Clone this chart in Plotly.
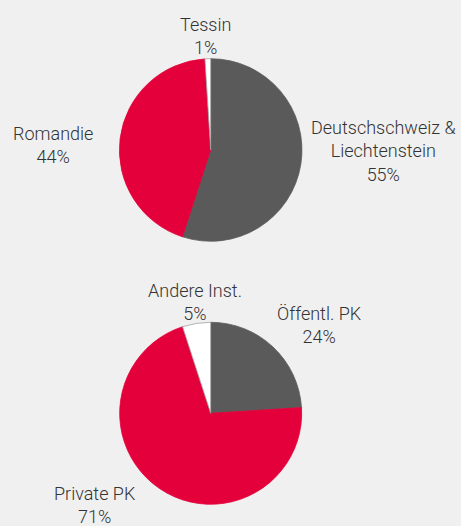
import plotly.graph_objects as go

# Pie 1: Sprachregion
region_labels = ["Deutschschweiz & Liechtenstein", "Romandie", "Tessin"]
region_values = [55, 44, 1]

# Pie 2: Institutionstyp
inst_labels = ["Öffentl. PK", "Private PK", "Andere Inst."]
inst_values = [24, 71, 5]

slice_colors = ["#5a5a5a", "#e4003a", "#ffffff"]
line_colors = ["#5a5a5a", "#e4003a", "#a0a0a0"]
bg = "#f0f0f0"
font_family = "Roboto"

fig = go.Figure()
fig.add_trace(go.Pie(
    labels=region_labels, values=region_values, sort=False, direction="clockwise",
    rotation=0, textinfo="none", hoverinfo="label+percent",
    marker=dict(colors=slice_colors, line=dict(color=line_colors, width=0.8)),
    domain=dict(x=[0.259, 0.655], y=[0.5413, 0.8884]), showlegend=False,
))
fig.add_trace(go.Pie(
    labels=inst_labels, values=inst_values, sort=False, direction="clockwise",
    rotation=0, textinfo="none", hoverinfo="label+percent",
    marker=dict(colors=slice_colors, line=dict(color=line_colors, width=0.8)),
    domain=dict(x=[0.259, 0.655], y=[0.0413, 0.3873]), showlegend=False,
))

# label positions (paper coords, layout only)
region_pos = [(383, 151), (52.7, 144.5), (205, 35.5)]
inst_pos = [(319.7, 325), (95, 504.5), (194.5, 302)]

W, H = 461, 526
annotations = []
for labels, values, pos in [(region_labels, region_values, region_pos),
                            (inst_labels, inst_values, inst_pos)]:
    for lab, val, (px, py) in zip(labels, values, pos):
        txt = lab.replace(" & ", " &amp;<br>") + "<br>" + f"{val}%"
        annotations.append(dict(
            text=txt, x=px / W, y=1 - py / H, xref="paper", yref="paper",
            xanchor="center", yanchor="middle", align="center", showarrow=False,
            font=dict(family=font_family, size=18, color="#333333", weight=300),
        ))

fig.update_layout(
    width=W, height=H, margin=dict(l=0, r=0, t=0, b=0),
    paper_bgcolor=bg, plot_bgcolor=bg, annotations=annotations,
)
fig.write_html(
    "out.html",
    config={"displayModeBar": False},
    post_script="document.body.style.margin='0';document.body.style.background='%s';" % bg,
)
